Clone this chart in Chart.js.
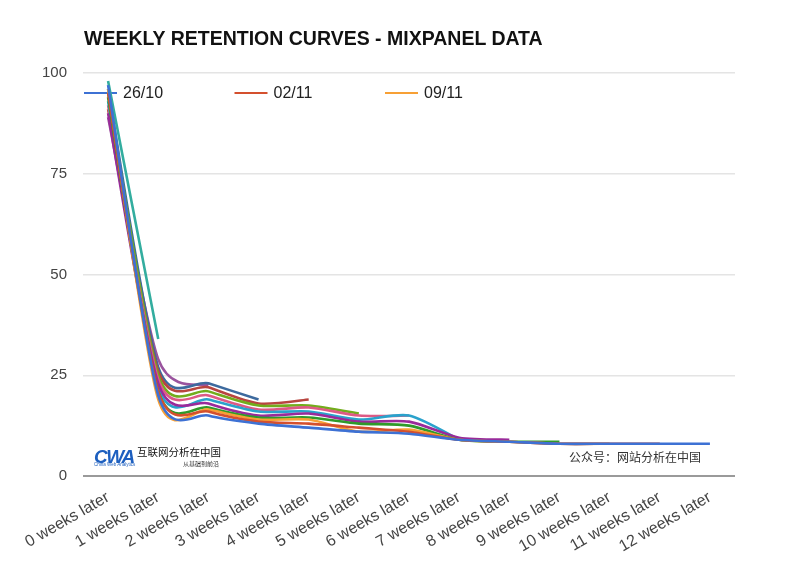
<!DOCTYPE html>
<html>
<head>
<meta charset="utf-8">
<script src="https://cdn.jsdelivr.net/npm/chart.js@4"></script>
<style>
  body { margin: 0; background: #fff; font-family: "Liberation Sans", Arial, sans-serif; }
  #wrap { position: relative; width: 800px; height: 567px; }
  #title { position: absolute; left: 84px; top: 27px; font-size: 19.5px; font-weight: bold; color: #111; }
  .mark { position: absolute; white-space: nowrap; line-height: 1; }
</style>
</head>
<body>
<div id="wrap">
  <canvas id="retention-chart" width="800" height="567"></canvas>
  <div id="title">WEEKLY RETENTION CURVES - MIXPANEL DATA</div>
  <div class="mark" style="left:94px;top:446px;font:italic bold 19px 'Liberation Sans',Arial;color:#1d5fbf;letter-spacing:-1.5px;">CWA</div>
  <div class="mark" style="left:137px;top:447px;font-size:10.5px;color:#111;font-family:'Noto Sans CJK SC';">互联网分析在中国</div>
  <div class="mark" style="left:94px;top:463px;font-size:4.5px;color:#1d5fbf;">China Web Analytics</div>
  <div class="mark" style="left:183px;top:461px;font-size:6px;color:#333;font-family:'Noto Sans CJK SC';">从基础到前沿</div>
  <div class="mark" style="left:569px;top:451px;font-size:12px;color:#333;font-family:'Noto Sans CJK SC';">公众号：网站分析在中国</div>
</div>
<script>
const weeks = [
  "0 weeks later", "1 weeks later", "2 weeks later", "3 weeks later",
  "4 weeks later", "5 weeks later", "6 weeks later", "7 weeks later",
  "8 weeks later", "9 weeks later", "10 weeks later", "11 weeks later",
  "12 weeks later",
];

const cohorts = ["26/10", "02/11", "09/11", "16/11", "23/11", "30/11", "07/12",
  "14/12", "21/12", "28/12", "04/01", "11/01", "18/01"];

// retention % per cohort, newer cohorts have fewer weeks
const c2610 = [97, 20, 15, 13, 12, 11, 10.5, 9, 8.5, 8, 8, 8, 8];
const c0211 = [95, 21, 16, 13.5, 13, 12, 11, 9, 8.5, 8, 8, 8];
const c0911 = [96, 19, 16.5, 14, 14, 11, 11.5, 9, 8.5, 8, 8];
const c1611 = [94, 21, 17, 14.5, 14.5, 13, 12.5, 9, 8.5, 8.5];
const c2311 = [90, 23, 18, 15, 15.5, 13.5, 13.5, 9.5, 9];
const c3011 = [93, 22, 19, 16, 16, 14, 15, 9];
const c0712 = [92, 24, 20, 16.5, 17, 15, 15];
const c1412 = [95, 25, 21, 17.5, 17.5, 15.5];
const c2112 = [91, 26, 22, 18, 19];
const c2812 = [96, 27, 23, 19];
const c0401 = [89, 29, 22.5];
const c1101 = [98, 34];
const c1801 = [97];

const series = [c2610, c0211, c0911, c1611, c2311, c3011, c0712,
  c1412, c2112, c2812, c0401, c1101, c1801];

const colors = ["#3d71d4", "#d4502e", "#f7a035", "#2f9a2a", "#9a2a9a", "#2aa2cc",
  "#dd5a85", "#72ad1c", "#b8453f", "#3d6a9e", "#9a549e", "#33ad9f", "#b0b02a"];

const font = { family: "'Liberation Sans', Arial, sans-serif", size: 16 };

// sheets-style smoothing: plain catmull-rom instead of chart.js distance weighting
const SMOOTH = 0.13;
const sheetsCurve = {
  id: "sheetsCurve",
  beforeDatasetsDraw(chart) {
    chart.data.datasets.forEach((ds, i) => {
      const meta = chart.getDatasetMeta(i);
      const pts = meta.data;
      pts.forEach((p, j) => {
        const prev = pts[j - 1] || p;
        const next = pts[j + 1] || p;
        p.cp1x = p.x - (next.x - prev.x) * SMOOTH;
        p.cp1y = p.y - (next.y - prev.y) * SMOOTH;
        p.cp2x = p.x + (next.x - prev.x) * SMOOTH;
        p.cp2y = p.y + (next.y - prev.y) * SMOOTH;
      });
      if (meta.dataset) meta.dataset._path = undefined;
    });
  },
};

// legend sits inside the plot, only first three cohorts shown
const insideLegend = {
  id: "insideLegend",
  beforeDatasetsDraw(chart) {
    const ctx = chart.ctx;
    const y = 93;
    ctx.save();
    ctx.font = "16px 'Liberation Sans', Arial, sans-serif";
    ctx.textBaseline = "middle";
    for (let i = 0; i < 3; i++) {
      const x = 84 + i * 150.5;
      ctx.strokeStyle = colors[i];
      ctx.lineWidth = 2;
      ctx.beginPath();
      ctx.moveTo(x, y);
      ctx.lineTo(x + 33, y);
      ctx.stroke();
      ctx.fillStyle = "#222";
      ctx.fillText(cohorts[i], x + 39, y + 1);
    }
    ctx.restore();
  },
};

window.onload = () => {
  const ctx = document.getElementById("retention-chart").getContext("2d");
  new Chart(ctx, {
    type: "line",
    data: {
      labels: weeks,
      datasets: series.map((values, i) => ({
        label: cohorts[i],
        data: values,
        borderColor: colors[i],
        backgroundColor: colors[i],
        borderWidth: 2.6,
        pointRadius: 0,
        tension: 0.4,
        fill: false,
      })),
    },
    options: {
      responsive: false,
      animation: false,
      layout: { padding: { left: 0, top: 73, right: 65, bottom: 0 } },
      plugins: {
        legend: { display: false },
        tooltip: { enabled: false },
      },
      scales: {
        y: {
          min: 0,
          max: 100,
          afterFit: (s) => { s.width = 83; },
          ticks: { stepSize: 25, padding: 16, color: "#444", font: { ...font, size: 15 } },
          border: { display: false },
          grid: {
            drawTicks: false,
            color: (c) => (c.tick && c.tick.value === 0 ? "#9a9a9a" : "#e4e4e4"),
            lineWidth: (c) => (c.tick && c.tick.value === 0 ? 2 : 1.5),
          },
        },
        x: {
          offset: true,
          afterFit: (s) => { s.height = 91; },
          border: { display: false },
          grid: { display: false, drawTicks: false },
          ticks: {
            autoSkip: false,
            minRotation: 30,
            maxRotation: 30,
            padding: 12,
            color: "#444",
            font,
          },
        },
      },
    },
    plugins: [insideLegend, sheetsCurve],
  });
};
</script>
</body>
</html>
